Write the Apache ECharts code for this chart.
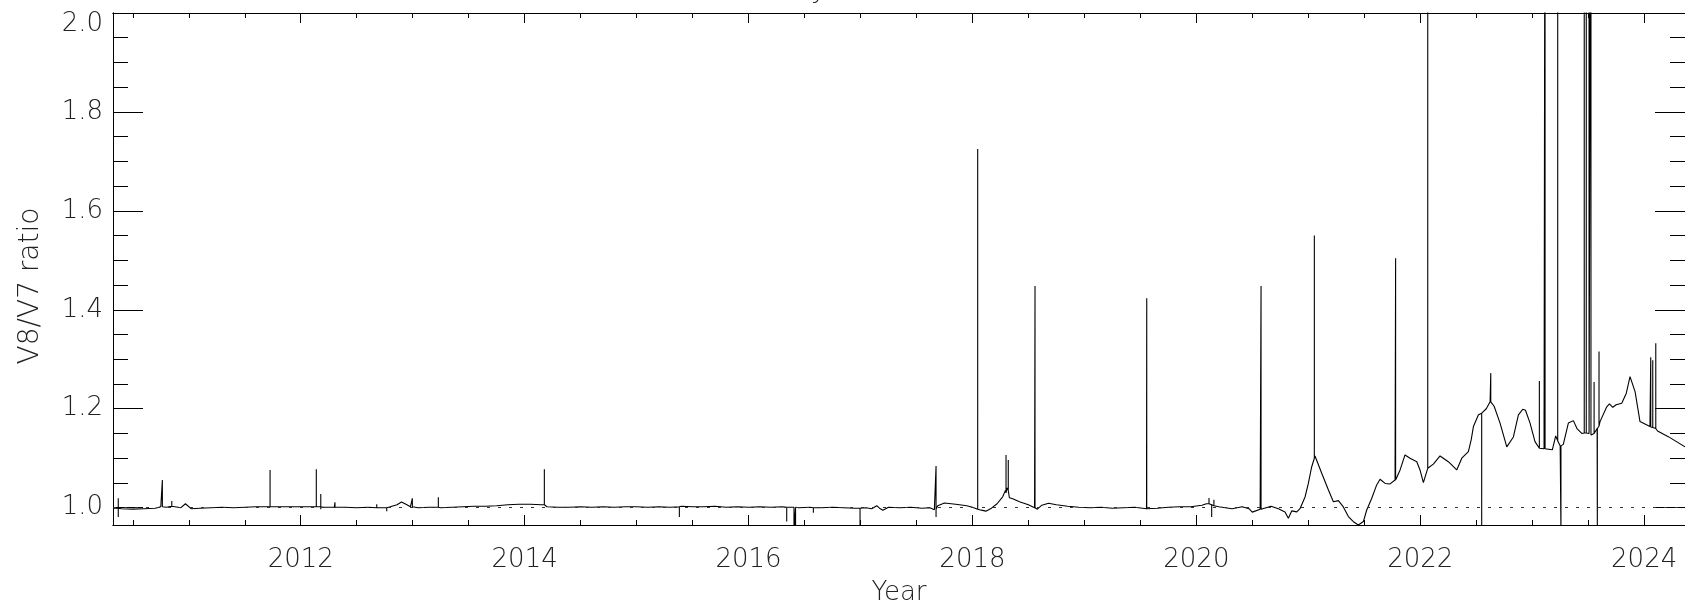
<!DOCTYPE html>
<html>
<head>
<meta charset="utf-8">
<script src="https://cdn.jsdelivr.net/npm/echarts@6/dist/echarts.min.js"></script>
<style>
  html, body { margin: 0; padding: 0; background: #fff; }
  #chart { width: 1685px; height: 607px; }
</style>
</head>
<body>
<div id="chart"></div>
<script>
// smooth part of the ratio curve, [year, V8/V7]
var baseline = [
  [2010.323, 0.999], [2010.40, 0.998], [2010.50, 0.997], [2010.60, 0.998], [2010.70, 0.999],
  [2010.75, 1.002], [2010.80, 1.001], [2010.86, 1.003], [2010.93, 1.000], [2010.97, 1.008],
  [2011.02, 0.998], [2011.10, 0.999], [2011.20, 1.000], [2011.30, 1.001], [2011.40, 1.000],
  [2011.50, 1.001], [2011.60, 1.002], [2011.70, 1.002], [2011.80, 1.002], [2011.90, 1.002],
  [2012.00, 1.002], [2012.10, 1.002], [2012.20, 1.001], [2012.30, 1.001], [2012.40, 1.001],
  [2012.50, 1.000], [2012.60, 1.001], [2012.70, 1.000], [2012.80, 1.002], [2012.86, 1.006],
  [2012.90, 1.0115], [2012.94, 1.007], [2012.98, 1.002], [2013.05, 1.000], [2013.15, 1.001],
  [2013.25, 1.000], [2013.35, 1.001], [2013.45, 1.002], [2013.55, 1.003], [2013.65, 1.003],
  [2013.75, 1.004], [2013.85, 1.006], [2013.95, 1.007], [2014.05, 1.007], [2014.15, 1.006],
  [2014.20, 1.002], [2014.30, 1.001], [2014.40, 1.001], [2014.50, 1.002], [2014.60, 1.001],
  [2014.70, 1.002], [2014.80, 1.001], [2014.90, 1.002], [2015.00, 1.002], [2015.10, 1.001],
  [2015.20, 1.002], [2015.30, 1.001], [2015.40, 1.003], [2015.50, 1.002], [2015.60, 1.002],
  [2015.70, 1.003], [2015.80, 1.001], [2015.90, 1.002], [2016.00, 1.001], [2016.10, 1.002],
  [2016.20, 1.001], [2016.30, 1.002], [2016.45, 1.000], [2016.55, 1.001], [2016.65, 1.000],
  [2016.75, 1.001], [2016.85, 1.000], [2016.95, 0.999], [2017.05, 1.000], [2017.10, 0.998],
  [2017.145, 1.004], [2017.17, 0.999], [2017.20, 0.995], [2017.25, 1.001], [2017.35, 1.000],
  [2017.45, 1.001], [2017.55, 0.999], [2017.62, 1.000], [2017.66, 0.996], [2017.69, 1.004],
  [2017.75, 1.0095], [2017.85, 1.007], [2017.95, 1.004], [2018.00, 1.001], [2018.08, 0.995],
  [2018.12, 0.993], [2018.17, 0.999], [2018.22, 1.008], [2018.27, 1.022], [2018.295, 1.035],
  [2018.31, 1.04], [2018.33, 1.02], [2018.36, 1.018], [2018.42, 1.012], [2018.50, 1.006],
  [2018.555, 1.000], [2018.58, 0.997], [2018.62, 1.005], [2018.68, 1.009], [2018.75, 1.006],
  [2018.85, 1.003], [2018.95, 1.001], [2019.05, 1.000], [2019.15, 1.001], [2019.25, 0.999],
  [2019.35, 1.000], [2019.45, 1.001], [2019.555, 0.998], [2019.65, 0.999], [2019.75, 1.001],
  [2019.85, 1.002], [2019.95, 1.002], [2020.05, 1.005], [2020.09, 1.008], [2020.20, 1.002],
  [2020.32, 0.998], [2020.41, 1.002], [2020.47, 0.998], [2020.50, 0.991], [2020.57, 0.997],
  [2020.667, 1.003], [2020.733, 0.998], [2020.792, 0.9915], [2020.822, 0.9785], [2020.852, 0.9935],
  [2020.897, 0.9915], [2020.926, 0.998], [2020.971, 1.0216], [2021.00, 1.0486], [2021.03, 1.0823],
  [2021.06, 1.1046], [2021.12, 1.0696], [2021.18, 1.0358], [2021.224, 1.012], [2021.269, 1.0142],
  [2021.313, 1.0015], [2021.358, 0.982], [2021.403, 0.9717], [2021.447, 0.965], [2021.492, 0.972],
  [2021.522, 0.9953], [2021.567, 1.019], [2021.611, 1.046], [2021.641, 1.0574], [2021.686, 1.049],
  [2021.73, 1.048], [2021.775, 1.056], [2021.82, 1.0763], [2021.864, 1.1066], [2021.909, 1.100],
  [2021.969, 1.093], [2021.998, 1.0763], [2022.028, 1.0506], [2022.067, 1.0796], [2022.117, 1.088],
  [2022.177, 1.1046], [2022.251, 1.093], [2022.326, 1.0763], [2022.371, 1.100], [2022.43, 1.1133],
  [2022.455, 1.137], [2022.475, 1.164], [2022.52, 1.188], [2022.549, 1.191], [2022.59, 1.200],
  [2022.624, 1.214], [2022.66, 1.205], [2022.713, 1.171], [2022.773, 1.123], [2022.832, 1.143],
  [2022.877, 1.1875], [2022.916, 1.199], [2022.94, 1.197], [2022.981, 1.171], [2023.025, 1.1335],
  [2023.07, 1.120], [2023.12, 1.118], [2023.18, 1.117], [2023.21, 1.145], [2023.25, 1.125],
  [2023.278, 1.128], [2023.323, 1.171], [2023.368, 1.176], [2023.40, 1.160], [2023.443, 1.150],
  [2023.49, 1.152], [2023.53, 1.146], [2023.58, 1.160], [2023.606, 1.174], [2023.666, 1.204],
  [2023.69, 1.2098], [2023.72, 1.203], [2023.75, 1.208], [2023.80, 1.211], [2023.84, 1.231],
  [2023.874, 1.265], [2023.919, 1.2346], [2023.963, 1.174], [2024.052, 1.164], [2024.12, 1.155],
  [2024.216, 1.1436], [2024.365, 1.123]
]

// single-day outliers: [year, value before/after, outlier value]
var spikes = [
  [2010.37, 0.999, 1.019], [2010.37, 0.999, 0.981], [2010.764, 1.002, 1.056], [2010.848, 1.003, 1.0136],
  [2011.726, 1.002, 1.0763], [2012.139, 1.002, 1.0777], [2012.179, 1.002, 1.0277], [2012.179, 1.002, 0.997],
  [2012.306, 1.001, 1.011], [2012.679, 1.000, 1.007], [2012.768, 1.000, 0.993], [2012.997, 1.002, 1.019],
  [2013.229, 1.001, 1.021], [2014.176, 1.006, 1.0777], [2015.382, 1.002, 0.981], [2016.341, 1.001, 0.972],
  [2016.406, 1.001, 0.95], [2016.42, 1.001, 0.95], [2016.579, 1.000, 0.990], [2016.996, 0.999, 0.95],
  [2017.675, 0.997, 1.0843], [2017.675, 0.997, 0.981], [2018.047, 0.997, 1.725], [2018.30, 1.03, 1.1066],
  [2018.32, 1.035, 1.0966], [2018.559, 1.000, 1.448], [2019.557, 0.998, 1.4235], [2020.113, 1.008, 1.0197],
  [2020.137, 1.006, 0.981], [2020.157, 1.004, 1.016], [2020.578, 0.997, 1.448], [2021.054, 1.10, 1.55],
  [2021.78, 1.056, 1.5044], [2022.067, 1.0796, 2.6], [2022.549, 1.191, 0.95], [2022.63, 1.214, 1.272],
  [2023.064, 1.120, 1.256], [2023.106, 1.119, 1.199], [2023.115, 1.119, 2.6], [2023.228, 1.135, 2.6],
  [2023.257, 1.125, 0.95], [2023.465, 1.151, 2.6], [2023.483, 1.151, 2.6], [2023.508, 1.150, 2.6],
  [2023.525, 1.147, 2.6], [2023.553, 1.150, 1.254], [2023.582, 1.160, 0.95], [2023.597, 1.165, 1.3156],
  [2024.059, 1.163, 1.304], [2024.077, 1.162, 1.298], [2024.104, 1.160, 1.3325]
]

var xMajorTicks = [2012, 2014, 2016, 2018, 2020, 2022, 2024]
var xMinorTicks = [2010.5, 2011, 2011.5, 2012, 2012.5, 2013, 2013.5, 2014, 2014.5, 2015, 2015.5,
  2016, 2016.5, 2017, 2017.5, 2018, 2018.5, 2019, 2019.5, 2020, 2020.5, 2021, 2021.5,
  2022, 2022.5, 2023, 2023.5, 2024]
var yMajorTicks = [1.0, 1.2, 1.4, 1.6, 1.8, 2.0]
var yMinorTicks = [1.0, 1.05, 1.1, 1.15, 1.2, 1.25, 1.3, 1.35, 1.4, 1.45, 1.5, 1.55, 1.6,
  1.65, 1.7, 1.75, 1.8, 1.85, 1.9, 1.95, 2.0]

var X_MIN = 2010.323
var X_MAX = 2024.365
var Y_MIN = 0.965
var Y_MAX = 2.0

var FONT = '"DejaVu Sans"'
var WEIGHT = 200
var TEXT_COLOR = '#222'

// merge the outliers into the curve as vertical strokes
var pts = baseline.map(function(p) { return { t: p[0], k: 0, v: [p[0], p[1]] } })
var seq = 0
spikes.forEach(function(s) {
  seq++
  pts.push({ t: s[0], k: seq, v: [s[0], s[1]] })
  pts.push({ t: s[0], k: seq + 0.1, v: [s[0], s[2]] })
  pts.push({ t: s[0], k: seq + 0.2, v: [s[0], s[1]] })
})
pts.sort(function(a, b) { return a.t - b.t || a.k - b.k })
var lineData = pts.map(function(p) { return p.v })

function xAx(position, ticks, len, withLabel) {
  return {
    type: 'value',
    position: position,
    min: X_MIN,
    max: X_MAX,
    axisLine: { show: true, lineStyle: { color: '#000', width: 1 } },
    axisTick: { show: true, inside: true, length: len, customValues: ticks, lineStyle: { color: '#000', width: 1 } },
    axisLabel: withLabel ? {
      show: true, customValues: xMajorTicks, margin: 22,
      fontFamily: FONT, fontWeight: WEIGHT, fontSize: 26, color: TEXT_COLOR,
      formatter: function(v) { return String(Math.round(v)) }
    } : { show: false },
    splitLine: { show: false },
    name: withLabel ? 'Year' : '',
    nameLocation: 'middle',
    nameGap: 55,
    nameTextStyle: { fontFamily: FONT, fontWeight: WEIGHT, fontSize: 26, color: TEXT_COLOR }
  }
}

function yAx(position, ticks, len, withLabel) {
  return {
    type: 'value',
    position: position,
    min: Y_MIN,
    max: Y_MAX,
    axisLine: { show: position === 'left', lineStyle: { color: '#000', width: 1 } },
    axisTick: { show: true, inside: true, length: len, customValues: ticks, lineStyle: { color: '#000', width: 1 } },
    axisLabel: withLabel ? {
      show: true, customValues: yMajorTicks, margin: 10,
      fontFamily: FONT, fontWeight: WEIGHT, fontSize: 26, color: TEXT_COLOR,
      formatter: function(v) {
        var s = v.toFixed(1)
        return v > 1.99 ? '{t|' + s + '}' : s
      },
      rich: { t: { padding: [22, 0, 0, 0], fontFamily: FONT, fontWeight: WEIGHT, fontSize: 26, color: TEXT_COLOR } }
    } : { show: false },
    splitLine: { show: false },
    name: withLabel ? 'V8/V7 ratio' : '',
    nameLocation: 'middle',
    nameRotate: 90,
    nameGap: 68,
    nameTextStyle: { fontFamily: FONT, fontWeight: WEIGHT, fontSize: 28, color: TEXT_COLOR, padding: [0, 34, 0, 0] }
  }
}

var chart = echarts.init(document.getElementById('chart'), null, { renderer: 'canvas' })
chart.setOption({
  animation: false,
  backgroundColor: '#fff',
  grid: { left: 113, right: 0, top: 13, bottom: 82, containLabel: false, outerBoundsMode: 'none' },
  xAxis: [
    xAx('bottom', xMajorTicks, 10, true),
    xAx('bottom', xMinorTicks, 5, false),
    xAx('top', xMajorTicks, 10, false),
    xAx('top', xMinorTicks, 5, false)
  ],
  yAxis: [
    yAx('left', yMajorTicks, 30, true),
    yAx('left', yMinorTicks, 15, false),
    yAx('right', yMajorTicks, 30, false),
    yAx('right', yMinorTicks, 15, false)
  ],
  graphic: [
    // descender of the cropped title above the frame
    { type: 'text', left: 811, top: -22, silent: true,
      style: { text: 'y', fontFamily: FONT, fontWeight: WEIGHT, fontSize: 26, fill: TEXT_COLOR } }
  ],
  series: [
    {
      type: 'line',
      xAxisIndex: 0,
      yAxisIndex: 0,
      data: lineData,
      showSymbol: false,
      symbol: 'none',
      clip: true,
      lineStyle: { color: '#000', width: 1.1 },
      markLine: {
        silent: true,
        symbol: 'none',
        label: { show: false },
        lineStyle: { color: '#333', width: 1, type: [3, 8] },
        data: [{ yAxis: 1 }]
      },
      z: 3
    }
  ]
})
</script>
</body>
</html>
